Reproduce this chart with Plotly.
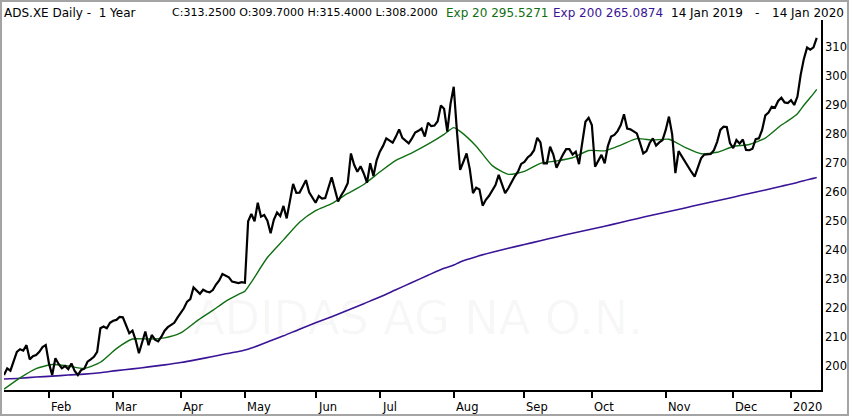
import pandas as pd
import plotly.graph_objects as go

#%% Datos

feriados = ["2019-04-19", "2019-04-22", "2019-05-01", "2019-12-24",
            "2019-12-25", "2019-12-26", "2019-12-31", "2020-01-01"]

# dias de negociacion Xetra, 14 ene 2019 - 14 ene 2020
dias = pd.bdate_range("2019-01-14", "2020-01-14", freq="C", holidays=feriados)

cierre = [
    197.0, 199.3, 198.5, 201.5, 205.0, 205.9, 205.4, 207.3, 202.4, 203.5,
    203.9, 205.0, 206.6, 207.3, 201.0, 197.0, 202.8, 200.8, 199.3, 200.1,
    199.0, 201.0, 198.4, 197.0, 198.7, 199.2, 201.6, 202.4, 203.3, 205.0,
    213.1, 213.7, 213.1, 215.0, 215.7, 216.0, 217.0, 216.9, 214.0, 211.4,
    212.3, 209.0, 204.5, 208.5, 212.0, 207.3, 210.8, 209.2, 208.6, 210.2,
    212.3, 213.5, 214.2, 215.0, 216.8, 218.5, 220.0, 222.3, 223.2, 227.2,
    226.1, 225.0, 226.4, 225.8, 225.5, 226.3, 228.2, 229.6, 231.8, 231.2,
    230.7, 229.2, 228.9, 228.7, 229.0, 228.8, 250.0, 252.5, 250.0, 256.4,
    251.6, 252.2, 250.2, 245.9, 250.5, 253.0, 251.8, 255.3, 251.0, 256.5,
    262.9, 259.8, 259.9, 262.0, 264.2, 260.0, 258.3, 256.4, 258.7, 257.8,
    258.0, 261.4, 265.2, 261.0, 256.8, 259.0, 260.8, 263.1, 273.4, 269.5,
    267.1, 269.0, 266.5, 263.3, 270.0, 265.6, 271.0, 274.0, 276.0, 278.6,
    277.8, 277.1, 279.2, 281.7, 278.8, 278.0, 276.9, 278.6, 280.6, 281.2,
    282.0, 279.2, 284.0, 282.8, 283.0, 284.5, 289.9, 288.8, 280.9, 290.5,
    296.4, 281.0, 267.7, 270.5, 273.4, 268.0, 259.7, 261.6, 261.0, 255.4,
    257.4, 258.8, 260.5, 262.5, 266.0, 262.5, 259.7, 261.4, 263.5, 265.5,
    267.1, 269.8, 270.5, 272.0, 272.9, 274.5, 278.8, 277.2, 270.0, 270.0,
    275.7, 273.0, 268.5, 271.0, 273.0, 274.9, 274.9, 273.0, 274.0, 269.7,
    277.4, 284.3, 285.7, 283.2, 268.8, 270.8, 272.9, 270.0, 276.0, 279.2,
    279.8, 281.1, 283.2, 286.9, 282.0, 281.7, 281.1, 280.3, 277.0, 273.4,
    274.2, 277.0, 278.6, 276.1, 277.2, 278.0, 281.5, 286.1, 280.0, 266.6,
    274.2, 272.3, 270.3, 268.5, 267.0, 265.4, 268.5, 271.7, 273.0, 273.1,
    273.2, 274.5, 277.4, 281.5, 282.6, 282.5, 277.0, 275.2, 278.0, 276.8,
    278.2, 274.6, 274.5, 275.0, 278.3, 278.6, 281.5, 286.5, 287.5, 289.5,
    289.2, 291.5, 292.6, 291.0, 290.8, 291.8, 290.1, 293.0, 300.5, 306.0,
    309.9, 309.2, 310.0, 313.25,
]

ema_fechas = [
    "2019-01-14", "2019-01-21", "2019-01-28", "2019-02-04", "2019-02-11",
    "2019-02-18", "2019-02-25", "2019-03-04", "2019-03-11", "2019-03-18",
    "2019-03-25", "2019-04-01", "2019-04-08", "2019-04-15", "2019-04-23",
    "2019-04-29", "2019-05-02", "2019-05-06", "2019-05-13", "2019-05-20",
    "2019-05-27", "2019-06-03", "2019-06-10", "2019-06-17", "2019-06-24",
    "2019-07-01", "2019-07-08", "2019-07-15", "2019-07-22", "2019-07-29",
    "2019-08-01", "2019-08-05", "2019-08-12", "2019-08-19", "2019-08-26",
    "2019-09-02", "2019-09-09", "2019-09-16", "2019-09-23", "2019-09-30",
    "2019-10-07", "2019-10-14", "2019-10-21", "2019-10-28", "2019-11-04",
    "2019-11-11", "2019-11-18", "2019-11-25", "2019-12-02", "2019-12-09",
    "2019-12-16", "2019-12-23", "2019-12-30", "2020-01-06", "2020-01-08",
    "2020-01-13", "2020-01-14",
]

ema20 = [
    192.1, 196.0, 199.2, 200.6, 200.1, 199.3, 201.4, 206.1, 209.4, 209.4,
    209.8, 211.5, 215.6, 219.3, 222.4, 224.8, 225.9, 229.0, 237.5, 243.6,
    249.7, 253.7, 256.1, 259.6, 262.7, 267.0, 271.0, 273.6, 276.6, 280.0,
    282.3, 281.0, 275.9, 269.2, 266.2, 267.2, 270.0, 270.8, 271.9, 274.4,
    274.3, 276.3, 278.5, 278.0, 278.3, 275.5, 273.3, 273.8, 275.8, 276.5,
    278.7, 283.2, 284.6, 287.1, 290.0, 294.0, 295.5,
]

ema200 = [
    195.6, 195.9, 196.3, 196.6, 197.0, 197.3, 197.8, 198.5, 199.1, 199.8,
    200.5, 201.3, 202.3, 203.4, 204.3, 205.1, 205.6, 206.3, 208.4, 210.5,
    212.8, 215.0, 217.1, 219.3, 221.6, 223.9, 226.4, 228.9, 231.4, 233.8,
    234.9, 236.0, 237.8, 239.3, 240.7, 242.0, 243.3, 244.6, 245.9, 247.1,
    248.3, 249.6, 250.9, 252.2, 253.4, 254.6, 255.9, 257.1, 258.3, 259.6,
    260.8, 262.1, 262.6, 263.4, 264.0, 264.8, 265.09,
]

meses = ["2019-02-01", "2019-03-01", "2019-04-01", "2019-05-02", "2019-06-03",
         "2019-07-01", "2019-08-01", "2019-09-02", "2019-10-01", "2019-11-01",
         "2019-12-02", "2020-01-02"]
meses_txt = ["Feb", "Mar", "Apr", "May", "Jun", "Jul", "Aug", "Sep", "Oct",
             "Nov", "Dec", "2020"]

ticks_y = [200, 210, 220, 230, 240, 250, 260, 270, 280, 290, 300, 310]

#%% Medidas en pixeles

W, H = 850, 417
L, R, T, B = 4, 29, 20, 27
FUENTE = "DejaVu Sans"
VERDE = "#0f6f12"
MORADO = "#3a1496"


def px(x):
    return (x - L) / (W - L - R)


def py(y):
    return (H - B - y) / (H - T - B)


#%% Grafica

fig = go.Figure()

fig.add_trace(go.Scatter(x=ema_fechas, y=ema200, mode="lines",
                         line=dict(color=MORADO, width=1.6, shape="spline", smoothing=0.8),
                         hoverinfo="skip"))
fig.add_trace(go.Scatter(x=ema_fechas, y=ema20, mode="lines",
                         line=dict(color=VERDE, width=1.4, shape="spline", smoothing=0.6),
                         hoverinfo="skip"))
fig.add_trace(go.Scatter(x=dias, y=cierre, mode="lines",
                         line=dict(color="black", width=2.2)))

anotaciones = []

# marca de agua
anotaciones.append(dict(text="ADIDAS AG NA O.N.", xref="paper", yref="paper",
                        x=px(418), y=py(347), showarrow=False,
                        font=dict(family=FUENTE, size=46, color="rgba(0,0,0,0.035)")))

# cabecera: texto, x en pixeles, color, tamano
cabecera = [
    ("ADS.XE Daily -\u00a0 1 Year", 2, "black", 12),
    ("C:313.2500 O:309.7000 H:315.4000 L:308.2000", 170, "black", 11.0),
    ("Exp 20 295.5271", 444, VERDE, 12),
    ("Exp 200 265.0874", 551, MORADO, 12),
    ("14 Jan 2019", 669, "black", 12),
    ("-", 753, "black", 12),
    ("14 Jan 2020", 770, "black", 12),
]
for texto, xpos, color, tam in cabecera:
    anotaciones.append(dict(text=texto, xref="paper", yref="paper",
                            x=px(xpos), y=py(12.5), xanchor="left", yanchor="middle",
                            showarrow=False,
                            font=dict(family=FUENTE, size=tam, color=color)))

# etiquetas de los meses, alineadas a la izquierda de cada marca
for fecha, texto in zip(meses, meses_txt):
    anotaciones.append(dict(text=texto, x=fecha, xref="x", y=0, yref="paper",
                            xanchor="left", yanchor="top", yshift=-8, showarrow=False,
                            font=dict(family=FUENTE, size=11.5, color="black")))

# etiquetas del eje de precios, a la derecha
for valor in ticks_y:
    anotaciones.append(dict(text=str(valor), x=px(823), xref="paper", y=valor, yref="y",
                            xanchor="left", yanchor="middle", showarrow=False,
                            font=dict(family=FUENTE, size=11.5, color="black")))

fig.update_layout(
    width=W, height=H,
    margin=dict(l=L, r=R, t=T, b=B, pad=0),
    paper_bgcolor="white", plot_bgcolor="white",
    showlegend=False,
    annotations=anotaciones,
    shapes=[dict(type="rect", xref="paper", yref="paper",
                 x0=px(1), x1=px(848), y0=py(415), y1=py(1),
                 line=dict(color="#a4a4a4", width=2), layer="above")],
    xaxis=dict(
        type="date",
        range=["2019-01-14", "2020-01-15 08:00"],
        rangebreaks=[dict(bounds=["sat", "mon"]), dict(values=feriados)],
        tickvals=meses, showticklabels=False,
        ticks="outside", ticklen=6, tickwidth=2, tickcolor="black",
        showline=True, linecolor="black", linewidth=2,
        showgrid=False, zeroline=False,
    ),
    yaxis=dict(
        side="right",
        range=[191.83, 319.41],
        tickvals=ticks_y, showticklabels=False,
        ticks="", showline=True, linecolor="black", linewidth=2,
        showgrid=False, zeroline=False,
    ),
)

# sin margen en la pagina y sin barra de herramientas
fig.write_html("out.html", config={"displayModeBar": False},
               post_script="document.body.style.margin='0';")
